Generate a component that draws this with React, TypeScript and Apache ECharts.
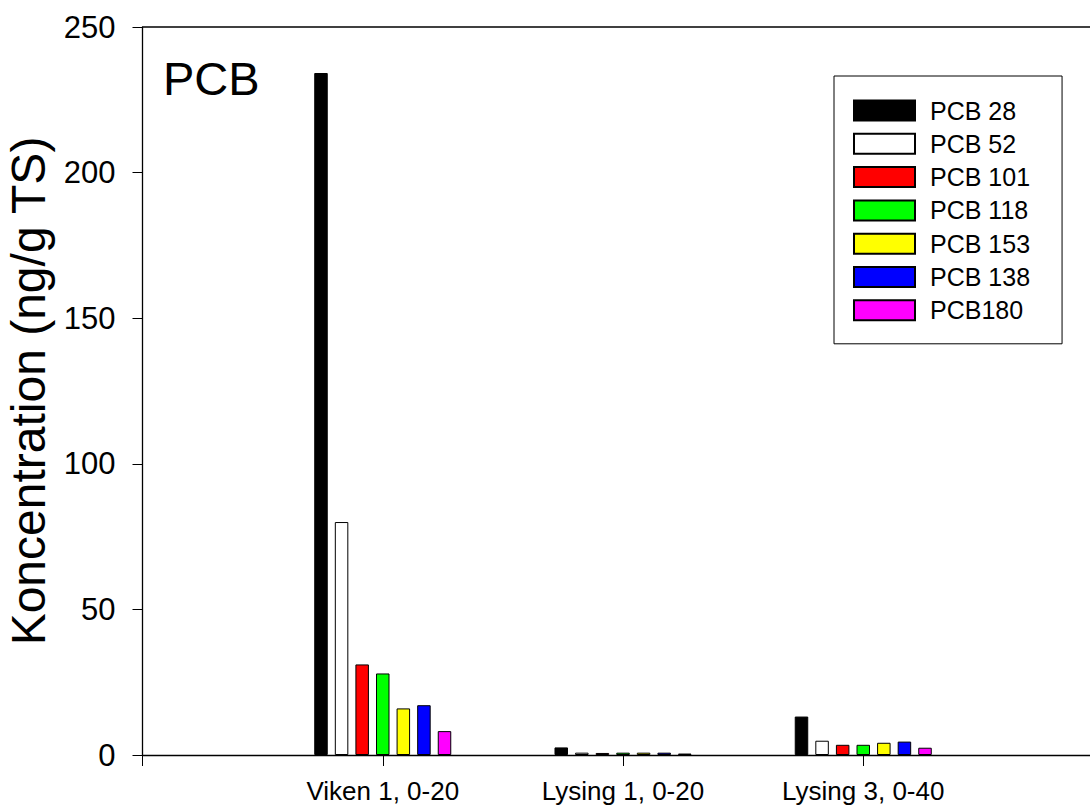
import React, { useEffect, useRef } from "react";
import * as echarts from "echarts";

const categories = ["", "Viken 1, 0-20", "Lysing 1, 0-20", "Lysing 3, 0-40", ""];
const seriesNames = ["PCB 28", "PCB 52", "PCB 101", "PCB 118", "PCB 153", "PCB 138", "PCB180"];
const seriesColors = ["#000000", "#ffffff", "#ff0000", "#00ff00", "#ffff00", "#0000ff", "#ff00ff"];
// values per series: [Viken 1, Lysing 1, Lysing 3]
const pcb28 = [234.2, 2.6, 13.2];
const pcb52 = [80.0, 0.8, 4.9];
const pcb101 = [31.1, 0.7, 3.5];
const pcb118 = [28.0, 0.8, 3.5];
const pcb153 = [16.0, 0.8, 4.2];
const pcb138 = [17.1, 0.8, 4.6];
const pcb180 = [8.2, 0.5, 2.5];
const seriesValues = [pcb28, pcb52, pcb101, pcb118, pcb153, pcb138, pcb180];
const yTicks = { min: 0, max: 250, interval: 50 };

const FONT = "'Liberation Sans', Arial, sans-serif";

export default function App() {
  const ref = useRef<HTMLDivElement>(null);
  useEffect(() => {
    document.body.style.margin = "0";
    const chart = echarts.init(ref.current!, null, { renderer: "svg" });
    chart.setOption({
      animation: false,
      backgroundColor: "#ffffff",
      textStyle: { fontFamily: FONT },
      grid: {
        left: 142.5,
        top: 27,
        bottom: 50,
        right: -13.5,
        show: false,
        containLabel: false,
        outerBoundsMode: "none",
      },
      legend: {
        orient: "vertical",
        left: 834,
        top: 76,
        padding: [22, 32, 21, 19],
        borderColor: "#000",
        borderWidth: 1,
        itemWidth: 61,
        itemHeight: 20,
        itemGap: 8.3,
        icon: "rect",
        textStyle: {
          fontSize: 25,
          color: "#000",
          fontFamily: FONT,
          padding: [0, 0, 0, 10],
        },
        data: seriesNames,
      },
      xAxis: {
        type: "category",
        data: categories,
        boundaryGap: false,
        axisLine: { lineStyle: { color: "#000", width: 1.3 } },
        axisTick: { show: true, length: 11, interval: 0, lineStyle: { color: "#000" } },
        axisLabel: { interval: 0, fontSize: 26, color: "#000", margin: 23, fontFamily: FONT },
        splitLine: { show: false },
      },
      yAxis: {
        type: "value",
        min: yTicks.min,
        max: yTicks.max,
        interval: yTicks.interval,
        name: "Koncentration (ng/g TS)",
        nameLocation: "middle",
        nameGap: 81,
        nameTextStyle: { fontSize: 48, color: "#000", fontFamily: FONT },
        axisLine: { show: true, lineStyle: { color: "#000", width: 1.3 } },
        axisTick: { show: true, length: 10, lineStyle: { color: "#000" } },
        axisLabel: { fontSize: 31, color: "#000", margin: 27, fontFamily: FONT },
        splitLine: { show: false },
      },
      graphic: [
        {
          type: "line",
          shape: { x1: 142.5, y1: 27, x2: 1090, y2: 27 },
          style: { stroke: "#000", lineWidth: 1.3 },
        },
        {
          type: "text",
          left: 163,
          top: 55,
          style: { text: "PCB", fontSize: 47, fill: "#000", fontFamily: FONT },
        },
      ],
      series: seriesNames.map((name, i) => ({
        name,
        type: "bar",
        barWidth: 13.5,
        barGap: "52.5%",
        itemStyle: { color: seriesColors[i], borderColor: "#000", borderWidth: 1 },
        data: ["-", ...seriesValues[i], "-"],
      })),
    });
    return () => chart.dispose();
  }, []);
  return <div ref={ref} style={{ width: 1090, height: 805 }} />;
}
